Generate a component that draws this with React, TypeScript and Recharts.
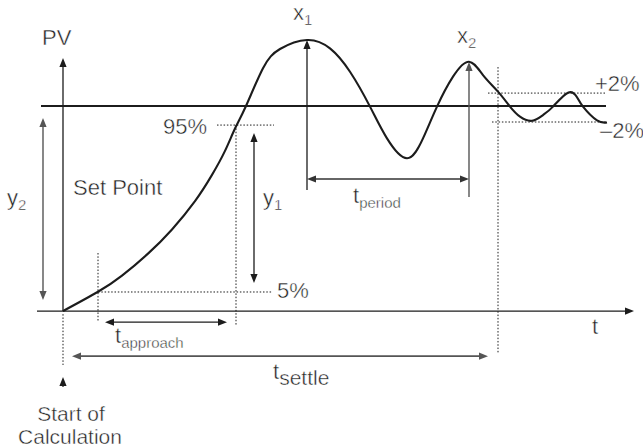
import React from "react";
import { LineChart, Line, XAxis, YAxis, ReferenceLine, ReferenceDot } from "recharts";

// process variable step response, t in arbitrary time units, PV in % of set point
const curveTime = [
  0, 3.5, 5.9, 8.5, 10.9, 13.2, 14.9, 16.2, 17.2, 18.3, 20.0, 21.7, 24.4, 26.7,
  28.7, 30.7, 32.4, 34.4, 36.0, 37.4, 39.0, 40.6, 42.0, 43.5, 44.7, 45.7, 46.9,
  48.0, 49.0, 50.5, 51.4, 52.0, 53.4, 54.4,
];
const curvePV = [
  0, 9.4, 17.3, 28.0, 39.8, 53.6, 66.4, 78.1, 89.0, 100, 118.4, 127.8, 132.2,
  128.1, 116.7, 99.7, 84.2, 74.5, 84.2, 99.7, 114.3, 121.6, 115.1, 107, 99.7,
  94.8, 92.8, 95.6, 99.7, 106.5, 104.3, 99.7, 93.0, 92.0,
];

const setPoint = 100;
const level95 = 90.7;
const level5 = 9.3;
const bandHigh = 106.3;
const bandLow = 92.2;

const tStart = 0;
const t5 = 3.5;
const t95 = 17.3;
const tPeak1 = 24.4;
const tPeak2 = 40.6;
const tSettle = 43.5;

const data = curveTime.map((t, i) => ({ t, pv: curvePV[i] }));

const INK = "#1c1c1c";
const TEXT = "#222";
const GREY = "#555";
const FONT = "'Liberation Sans', Arial, Helvetica, sans-serif";

type Heads = "none" | "start" | "end" | "both";

function arrowShape(heads: Heads, color: string, width: number, dash?: string) {
  return (p: any) => {
    const { x1, y1, x2, y2 } = p;
    const a = Math.atan2(y2 - y1, x2 - x1);
    const L = 9;
    const W = 3.6;
    const head = (x: number, y: number, ang: number) => {
      const bx = x - L * Math.cos(ang);
      const by = y - L * Math.sin(ang);
      const px = -Math.sin(ang) * W;
      const py = Math.cos(ang) * W;
      return (
        <polygon
          points={`${x},${y} ${bx + px},${by + py} ${bx - px},${by - py}`}
          fill={color}
        />
      );
    };
    const hasStart = heads === "start" || heads === "both";
    const hasEnd = heads === "end" || heads === "both";
    const sx = hasStart ? x1 + (L - 1) * Math.cos(a) : x1;
    const sy = hasStart ? y1 + (L - 1) * Math.sin(a) : y1;
    const ex = hasEnd ? x2 - (L - 1) * Math.cos(a) : x2;
    const ey = hasEnd ? y2 - (L - 1) * Math.sin(a) : y2;
    return (
      <g>
        <line
          x1={sx}
          y1={sy}
          x2={ex}
          y2={ey}
          stroke={color}
          strokeWidth={width}
          strokeDasharray={dash}
        />
        {hasStart && head(x1, y1, a + Math.PI)}
        {hasEnd && head(x2, y2, a)}
      </g>
    );
  };
}

type Seg = {
  from: [number, number];
  to: [number, number];
  heads: Heads;
  color: string;
  width: number;
  dash?: string;
};

const DOT = "1.5 1.8";

const segments: Seg[] = [
  // axes and set point
  { from: [-2.6, 0], to: [57.1, 0], heads: "end", color: INK, width: 1.3 },
  { from: [tStart, 0], to: [tStart, 123.4], heads: "end", color: INK, width: 1.3 },
  { from: [-2.2, setPoint], to: [54.3, setPoint], heads: "none", color: INK, width: 2.2 },
  // dotted guides
  { from: [15.4, level95], to: [21.1, level95], heads: "none", color: INK, width: 1, dash: DOT },
  { from: [t5, level5], to: [20.9, level5], heads: "none", color: INK, width: 1, dash: DOT },
  { from: [42.5, bandHigh], to: [54.2, bandHigh], heads: "none", color: INK, width: 1, dash: DOT },
  { from: [42.9, bandLow], to: [54.4, bandLow], heads: "none", color: INK, width: 1, dash: DOT },
  { from: [tStart, -1.5], to: [tStart, -26.3], heads: "none", color: INK, width: 1, dash: DOT },
  { from: [t5, 28.3], to: [t5, -4.9], heads: "none", color: INK, width: 1, dash: DOT },
  { from: [t95, level95], to: [t95, -6.8], heads: "none", color: INK, width: 1, dash: DOT },
  { from: [tSettle, 119], to: [tSettle, -20.5], heads: "none", color: INK, width: 1, dash: DOT },
  // dimension arrows
  { from: [-2, 5.4], to: [-2, 94.1], heads: "both", color: GREY, width: 1.4 },
  { from: [19.1, 13.7], to: [19.1, 86.8], heads: "both", color: INK, width: 1.3 },
  { from: [tPeak1, 59], to: [tPeak1, 132.2], heads: "end", color: INK, width: 1.3 },
  { from: [tPeak2, 55.6], to: [tPeak2, 121.5], heads: "end", color: GREY, width: 1.4 },
  { from: [tPeak1, 64.4], to: [tPeak2, 64.4], heads: "both", color: "#333", width: 1.3 },
  { from: [4.2, -5.4], to: [16.4, -5.4], heads: "both", color: INK, width: 1.3 },
  { from: [0.9, -22], to: [42.5, -22], heads: "both", color: GREY, width: 1.6 },
  { from: [tStart, -37], to: [tStart, -32.2], heads: "end", color: INK, width: 1.2 },
];

type Lbl = {
  at: [number, number];
  main: string;
  sub?: string;
  size?: number;
  subSize?: number;
  subDy?: number;
  anchor?: "start" | "middle" | "end";
};

const labels: Lbl[] = [
  { at: [-2.1, 129.8], main: "PV" },
  { at: [23, 142.0], main: "x", sub: "1" },
  { at: [39.4, 130.7], main: "x", sub: "2" },
  { at: [14.4, 86.3], main: "95%", anchor: "end" },
  { at: [1.0, 56.6], main: "Set Point" },
  { at: [-5.6, 51.7], main: "y", sub: "2" },
  { at: [20, 51.7], main: "y", sub: "1" },
  { at: [29, 52.7], main: "t", sub: "period" },
  { at: [21.4, 6.3], main: "5%" },
  { at: [52.9, -11.2], main: "t" },
  { at: [5.2, -15.6], main: "t", sub: "approach" },
  { at: [21, -33.2], main: "t", sub: "settle", subSize: 21, subDy: 6 },
  { at: [53.2, 107.3], main: "+2%" },
  { at: [53.7, 84.4], main: "\u20132%" },
  { at: [0.8, -53.7], main: "Start of", anchor: "middle", size: 21 },
  { at: [0.7, -64.6], main: "Calculation", anchor: "middle", size: 21 },
];

function labelShape(l: Lbl) {
  return (p: any) => (
    <text
      x={p.cx}
      y={p.cy}
      fill={TEXT}
      stroke="#fff"
      strokeWidth={0.45}
      fontFamily={FONT}
      fontSize={l.size ?? 22}
      textAnchor={l.anchor ?? "start"}
    >
      <tspan>{l.main}</tspan>
      {l.sub && (
        <tspan fontSize={l.subSize ?? 15} dy={l.subDy ?? 5}>
          {l.sub}
        </tspan>
      )}
    </text>
  );
}

export default function App() {
  return (
    <div style={{ width: 643, height: 447, background: "#fff" }}>
      <style>{`body{margin:0}`}</style>
      <LineChart
        width={643}
        height={447}
        data={data}
        margin={{ top: 0, right: 0, bottom: 0, left: 0 }}
      >
        <XAxis type="number" dataKey="t" domain={[-6.3, 58]} hide allowDataOverflow />
        <YAxis type="number" domain={[-66.3, 151.7]} hide allowDataOverflow />
        {segments.map((s, i) => (
          <ReferenceLine
            key={`s${i}`}
            segment={[
              { x: s.from[0], y: s.from[1] },
              { x: s.to[0], y: s.to[1] },
            ]}
            ifOverflow="visible"
            shape={arrowShape(s.heads, s.color, s.width, s.dash)}
          />
        ))}
        <Line
          type="natural"
          dataKey="pv"
          stroke={INK}
          strokeWidth={2.1}
          dot={false}
          activeDot={false}
          isAnimationActive={false}
        />
        {labels.map((l, i) => (
          <ReferenceDot
            key={`l${i}`}
            x={l.at[0]}
            y={l.at[1]}
            r={0}
            ifOverflow="visible"
            shape={labelShape(l)}
          />
        ))}
      </LineChart>
    </div>
  );
}
